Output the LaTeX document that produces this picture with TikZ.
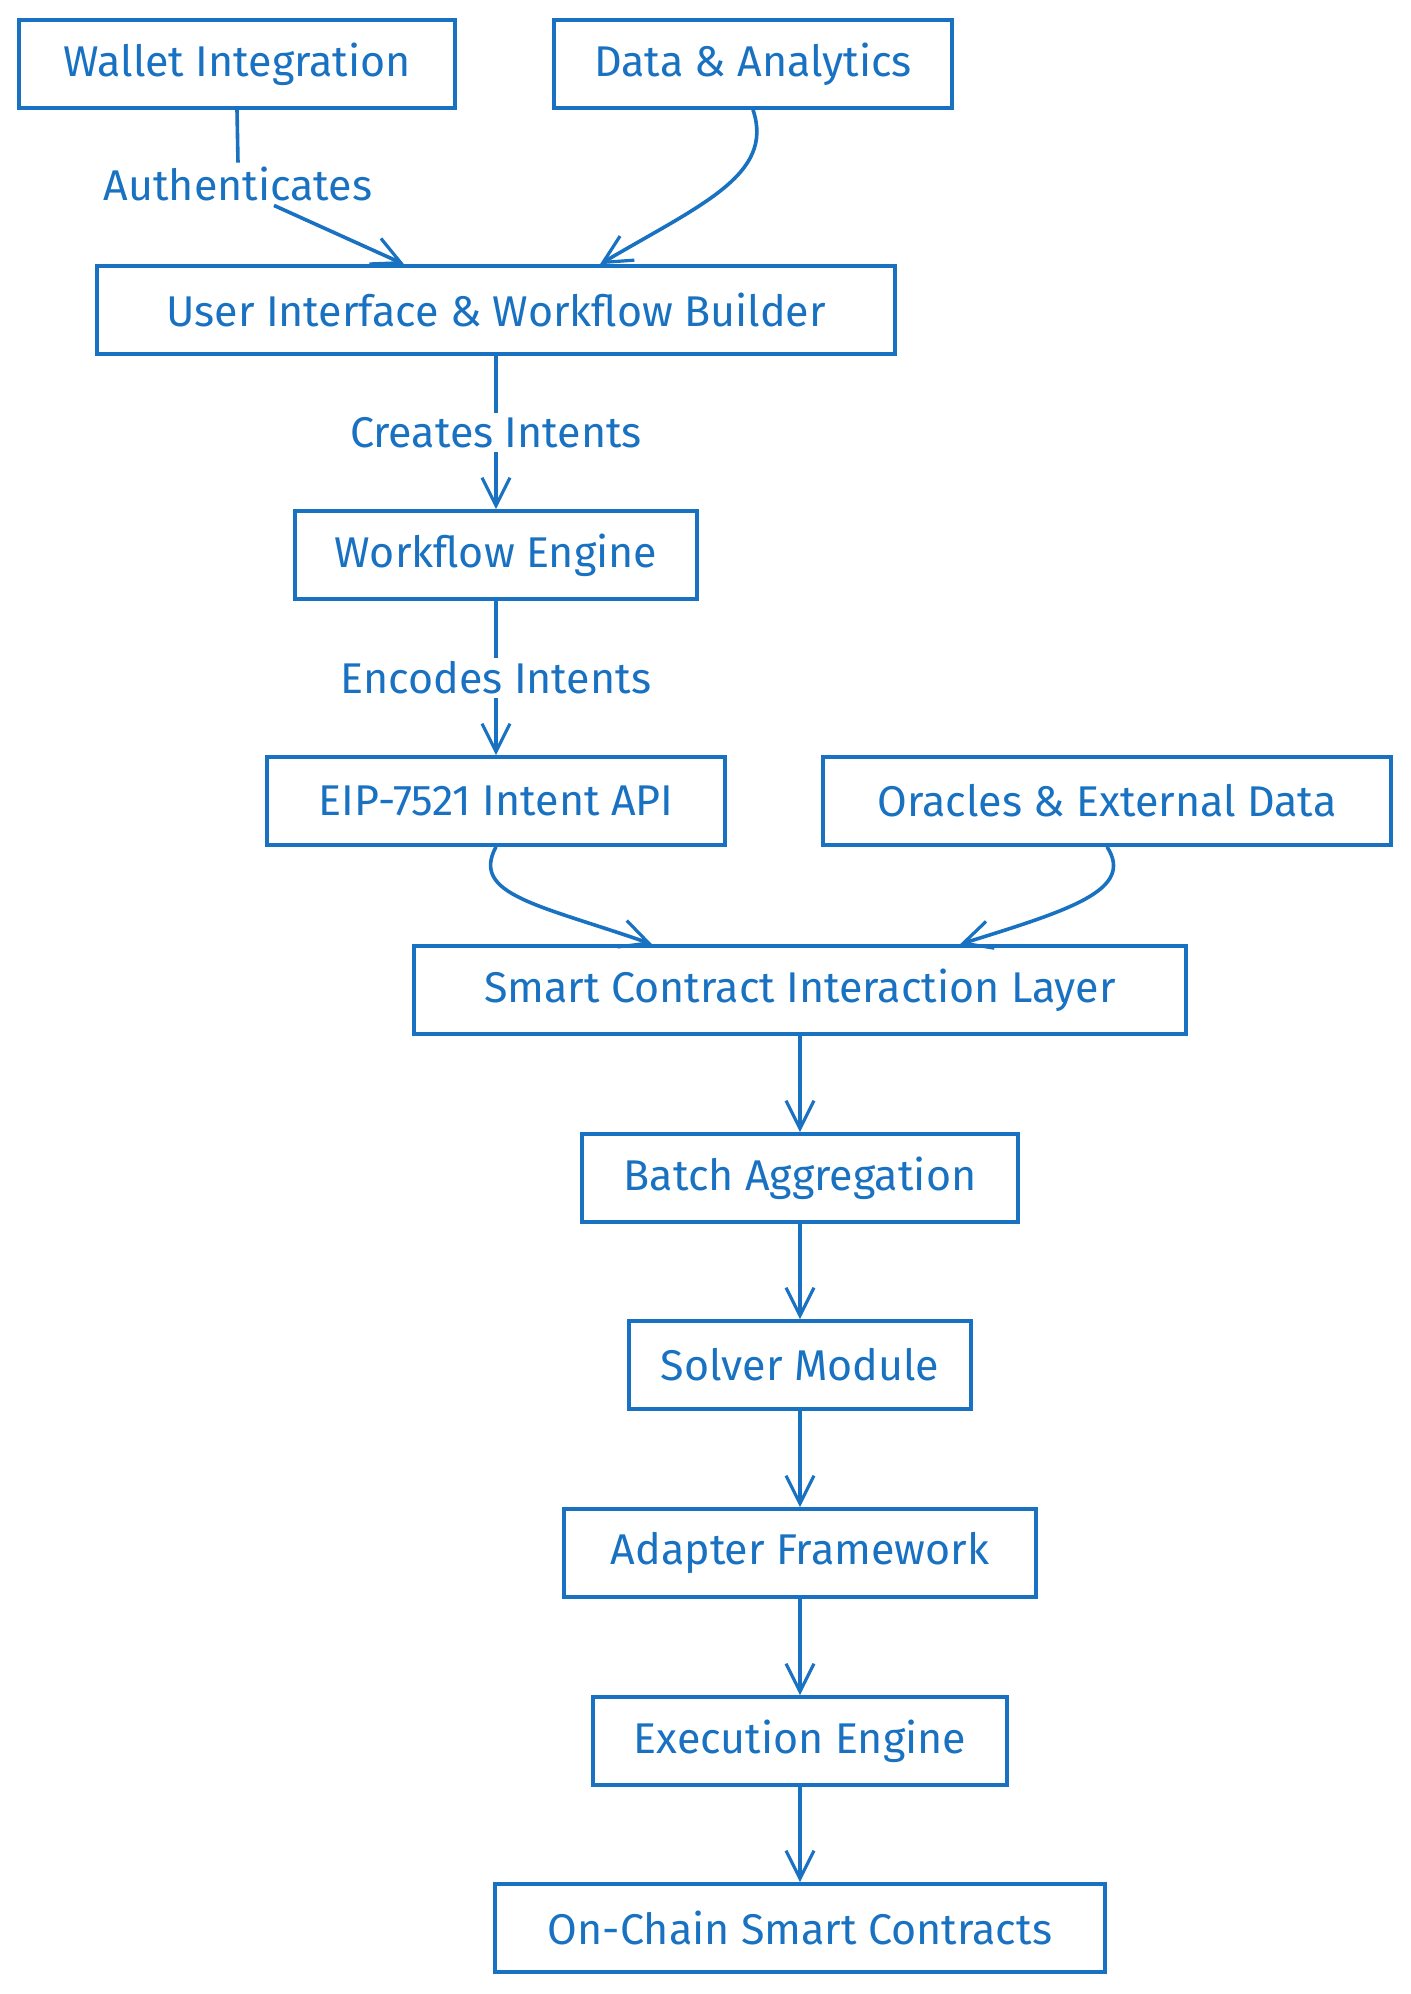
\documentclass[tikz,border=0pt]{standalone}
\usepackage{fontspec}
\setmainfont{Fira Sans}
\usetikzlibrary{arrows.meta, positioning}
\definecolor{inkblue}{HTML}{1971C2}

\begin{document}
\begin{tikzpicture}[x=0.5pt, y=-0.5pt,
    box/.style={draw=inkblue, line width=1.8pt, text=inkblue, minimum height=44pt,
                inner sep=0pt, font=\fontsize{21.5}{24}\selectfont},
    flow/.style={draw=inkblue, line width=1.8pt},
    arr/.style={flow, -{Straight Barb[length=14pt, width=14pt, line width=1.6pt]}},
    lbl/.style={text=inkblue, fill=white, inner sep=2pt, font=\fontsize{21.5}{24}\selectfont}]
                % Fix the page to the size of the picture
                \useasboundingbox[fill=white] (0,0) rectangle (1410,1994);

                % Top row
                \node[box, minimum width=218pt] (wallet) at (237,64) {Wallet Integration};
                \node[box, minimum width=199pt] (data) at (753,64) {Data \& Analytics};
                \node[box, minimum width=399pt] (ui) at (496,310) {User Interface \& Workflow Builder};

                % Intent path
                \node[box, minimum width=201pt] (engine) at (496,555) {Workflow Engine};
                \node[box, minimum width=229pt] (api) at (496,801) {EIP-7521 Intent API};
                \node[box, minimum width=284pt] (oracles) at (1107,801) {Oracles \& External Data};
                \node[box, minimum width=386pt] (layer) at (800,990) {Smart Contract Interaction Layer};

                % Execution chain
                \node[box, minimum width=218pt] (batch) at (800,1178) {Batch Aggregation};
                \node[box, minimum width=171pt] (solver) at (800,1365) {Solver Module};
                \node[box, minimum width=236pt] (adapter) at (800,1553) {Adapter Framework};
                \node[box, minimum width=207pt] (exec) at (800,1741) {Execution Engine};
                \node[box, minimum width=305pt] (chain) at (800,1928) {On-Chain Smart Contracts};

                % Labels
                \node[lbl] (auth) at (238,184) {Authenticates};

                % Connectors
                \draw[flow] (wallet.south) -- (auth.north);
                \draw[arr] ([xshift=18pt]auth.south) -- ([xshift=-46pt]ui.north);
                \draw[arr] (data.south) .. controls (775,175) and (700,205) .. ([xshift=52pt]ui.north);
                \draw[arr] (ui) -- node[lbl] {Creates Intents} (engine);
                \draw[arr] (engine) -- node[lbl] {Encodes Intents} (api);
                \draw[arr] (api.south) .. controls (470,895) and (540,905) .. ([xshift=-74pt]layer.north);
                \draw[arr] (oracles.south) .. controls (1135,890) and (1070,910) .. ([xshift=80pt]layer.north);
                \draw[arr] (layer) -- (batch);
                \draw[arr] (batch) -- (solver);
                \draw[arr] (solver) -- (adapter);
                \draw[arr] (adapter) -- (exec);
                \draw[arr] (exec) -- (chain);
\end{tikzpicture}
\end{document}
